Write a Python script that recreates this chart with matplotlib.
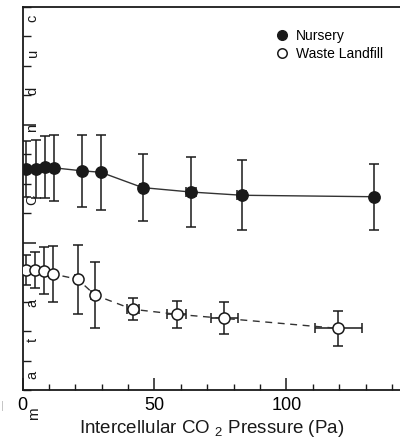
import matplotlib
matplotlib.use("Agg")
import matplotlib.pyplot as plt
from matplotlib.ticker import MultipleLocator, FixedLocator

plt.rcParams["font.family"] = ["Liberation Sans", "DejaVu Sans"]
plt.rcParams["mathtext.fontset"] = "custom"
plt.rcParams["mathtext.rm"] = "Liberation Sans"

# Nursery (filled circles)
nursery_x = [1.25, 5.0, 8.6, 12.0, 22.5, 29.7, 45.5, 63.8, 83.1, 133.1]
nursery_y = [0.750, 0.750, 0.757, 0.754, 0.744, 0.739, 0.687, 0.672, 0.661, 0.656]
nursery_yerr = [0.095, 0.097, 0.104, 0.111, 0.122, 0.127, 0.114, 0.119, 0.119, 0.112]
nursery_xerr = [0, 0, 0, 0, 0, 0, 1.0, 2.0, 1.7, 0]

# Waste landfill (open circles)
landfill_x = [1.25, 4.8, 8.2, 11.4, 20.9, 27.5, 41.7, 58.4, 76.5, 119.7]
landfill_y = [0.407, 0.407, 0.405, 0.394, 0.376, 0.322, 0.274, 0.257, 0.243, 0.209]
landfill_yerr = [0.051, 0.062, 0.079, 0.095, 0.117, 0.113, 0.037, 0.046, 0.054, 0.059]
landfill_xerr = [0, 0, 0, 0, 1.0, 1.5, 2.3, 3.5, 5.0, 8.8]

# scattered letters of the y label, (letter, y position)
ylabel_letters = [("c", 1.26), ("u", 1.145), ("d", 1.015), ("n", 0.89),
                  ("C", 0.645), ("a", 0.295), ("t", 0.17), ("a", 0.05)]

ink = "#1a1a1a"

fig = plt.figure(figsize=(4.0, 4.38), dpi=100)
ax = fig.add_axes([22.5 / 400, 48 / 438, (400 - 22.5) / 400, 383 / 438])

ax.errorbar(nursery_x, nursery_y, yerr=nursery_yerr, xerr=nursery_xerr,
            fmt="none", ecolor=ink, elinewidth=1.1, capsize=3.8, capthick=1.1, zorder=2)
ax.plot(nursery_x, nursery_y, "-", color="#333333", lw=1.0, zorder=3)
ax.plot(nursery_x, nursery_y, "o", color=ink, ms=8.2, mec=ink, zorder=4,
        label="Nursery")

ax.errorbar(landfill_x, landfill_y, yerr=landfill_yerr, xerr=landfill_xerr,
            fmt="none", ecolor=ink, elinewidth=1.1, capsize=3.8, capthick=1.1, zorder=2)
ax.plot(landfill_x, landfill_y, "--", color="#333333", lw=1.0, dashes=(5, 4), zorder=3)
ax.plot(landfill_x, landfill_y, "o", color="white", ms=8.0, mec=ink, mew=1.1, zorder=4,
        label="Waste Landfill")

ax.set_xlim(0, 143)
ax.set_ylim(0, 1.3)

ax.spines["right"].set_visible(False)
for s in ["left", "bottom", "top"]:
    ax.spines[s].set_color(ink)
    ax.spines[s].set_linewidth(1.3)

ax.xaxis.set_major_locator(FixedLocator([0, 50, 100]))
ax.xaxis.set_minor_locator(MultipleLocator(10))
ax.yaxis.set_major_locator(FixedLocator([0.5, 0.9]))
ax.yaxis.set_minor_locator(MultipleLocator(0.1))
ax.tick_params(axis="x", which="major", direction="in", length=8.5, width=1.1,
               color=ink, labelsize=13, pad=5, top=False)
ax.tick_params(axis="x", which="minor", direction="in", length=4.5, width=1.0,
               color=ink, top=False)
ax.tick_params(axis="y", which="major", direction="in", length=9.5, width=1.1,
               color=ink, labelleft=False, right=False)
ax.tick_params(axis="y", which="minor", direction="in", length=5.5, width=1.0,
               color=ink, right=False)

ax.set_xlabel(r"Intercellular CO $_2$ Pressure (Pa)", fontsize=13.5, color=ink,
              labelpad=3)

for ch, yv in ylabel_letters:
    ax.text(3.8, yv, ch, rotation=90, fontsize=10.5, color=ink,
            ha="center", va="center")
ax.text(4.3, -0.08, "m", rotation=90, fontsize=11, color=ink,
        ha="center", va="center", clip_on=False)
ax.text(-7.5, -0.055, "|", fontsize=8, color="0.75", ha="center", va="center",
        clip_on=False)

ax.legend(loc="upper left", bbox_to_anchor=(0.655, 0.958), frameon=False,
          fontsize=10, handletextpad=0.5, labelspacing=0.3, handlelength=1.0,
          borderaxespad=0, markerscale=0.85)

fig.savefig("out.png", dpi=100)
